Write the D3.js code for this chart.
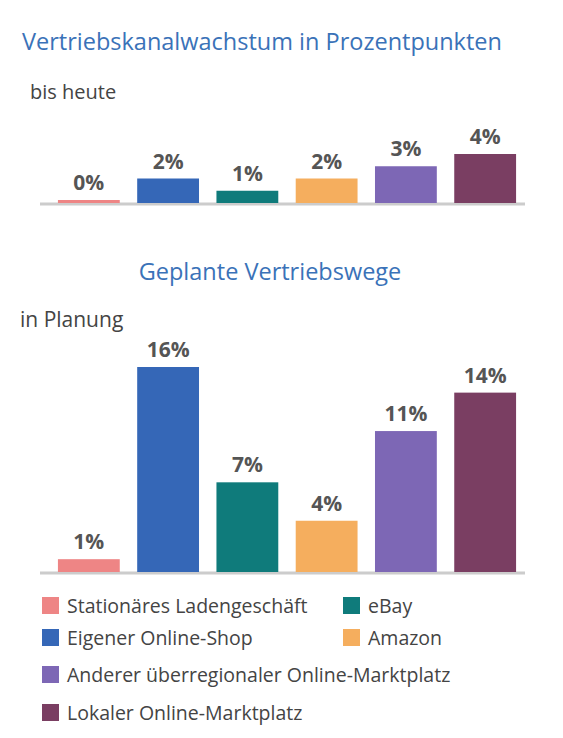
<!DOCTYPE html>
<html><head><meta charset="utf-8">
<script src="https://cdn.jsdelivr.net/npm/d3@7"></script>
<style>body{margin:0;background:#fff}</style>
</head><body>
<svg id="chart" width="563" height="738"></svg>
<script>
const categories = ["Stationäres Ladengeschäft", "Eigener Online-Shop", "eBay", "Amazon", "Anderer überregionaler Online-Marktplatz", "Lokaler Online-Marktplatz"];
const colors = ["#ee8585", "#3567b7", "#0f7b7b", "#f5ae5e", "#7d67b5", "#7a3e62"];
const growthValues = [0, 2, 1, 2, 3, 4];
const plannedValues = [1, 16, 7, 4, 11, 14];
const legendOrder = [0, 2, 1, 3, 4, 5];

const svg = d3.select("#chart");
const font = "'Open Sans', 'Noto Sans', sans-serif";
const blue = "#3a72b8";

svg.append("text").attr("x", 22).attr("y", 50).attr("font-family", font)
  .attr("font-size", 23.5).attr("fill", blue).text("Vertriebskanalwachstum in Prozentpunkten");
svg.append("text").attr("x", 30).attr("y", 99).attr("font-family", font)
  .attr("font-size", 20).attr("fill", "#444").text("bis heute");
svg.append("text").attr("x", 270).attr("y", 280).attr("text-anchor", "middle").attr("font-family", font)
  .attr("font-size", 23.5).attr("fill", blue).text("Geplante Vertriebswege");
svg.append("text").attr("x", 20).attr("y", 327).attr("font-family", font)
  .attr("font-size", 21).attr("fill", "#444").text("in Planung");

const x = d3.scaleBand().domain(categories).range([50, 524]).paddingInner(0.22).paddingOuter(0.1);

function bars(values, baseline, y) {
  const g = svg.append("g");
  g.append("line").attr("x1", 40).attr("x2", 525).attr("y1", baseline + 1).attr("y2", baseline + 1)
    .attr("stroke", "#ccc").attr("stroke-width", 3);
  g.selectAll("rect").data(values).enter().append("rect")
    .attr("x", (d, i) => x(categories[i])).attr("width", x.bandwidth())
    .attr("y", d => Math.min(y(d), baseline - 3)).attr("height", d => Math.max(baseline - y(d), 3))
    .attr("fill", (d, i) => colors[i]);
  g.selectAll("text").data(values).enter().append("text")
    .attr("x", (d, i) => x(categories[i]) + x.bandwidth() / 2)
    .attr("y", d => Math.min(y(d), baseline - 3) - 10)
    .attr("text-anchor", "middle").attr("font-family", font).attr("font-weight", "bold")
    .attr("font-size", 21).attr("fill", "#555").text(d => d + "%");
}

bars(growthValues, 203, d3.scaleLinear().domain([0, 4]).range([203, 154]));
bars(plannedValues, 572, d3.scaleLinear().domain([0, 16]).range([572, 367]));

const legend = svg.append("g");
const rows = [606, 638, 675, 713];
const slots = [[42, rows[0]], [343, rows[0]], [42, rows[1]], [343, rows[1]], [42, rows[2]], [42, rows[3]]];
legendOrder.forEach((ci, k) => {
  const [lx, ly] = slots[k];
  legend.append("rect").attr("x", lx).attr("y", ly - 9).attr("width", 17).attr("height", 17).attr("fill", colors[ci]);
  legend.append("text").attr("x", lx + 25).attr("y", ly + 7).attr("font-family", font)
    .attr("font-size", 19.5).attr("fill", "#444").text(categories[ci]);
});
</script>
</body></html>
